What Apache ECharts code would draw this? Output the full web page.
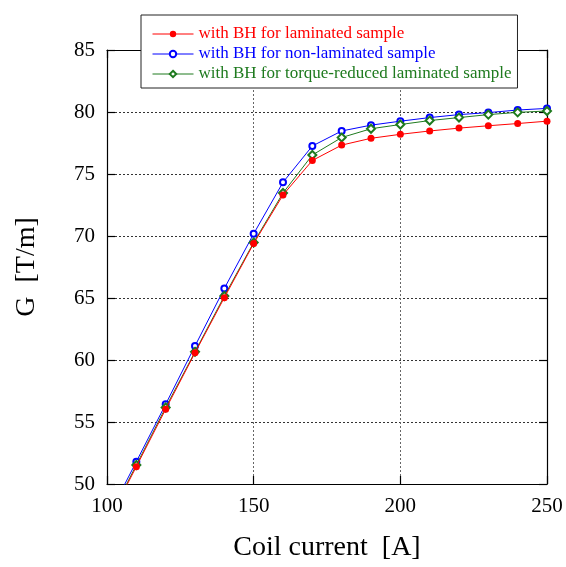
<!DOCTYPE html>
<html>
<head>
<meta charset="utf-8">
<script src="https://cdn.jsdelivr.net/npm/echarts@6/dist/echarts.min.js"></script>
<style>
html,body{margin:0;padding:0;background:#fff;}
#chart{width:566px;height:567px;}
</style>
</head>
<body>
<div id="chart"></div>
<script>
// Data
const current = [100, 110, 120, 130, 140, 150, 160, 170, 180, 190, 200, 210, 220, 230, 240, 250];
const laminated = [46.8, 51.4, 56.03, 60.58, 65.03, 69.39, 73.31, 76.09, 77.33, 77.88, 78.2, 78.47, 78.7, 78.89, 79.07, 79.26];
const nonLaminated = [47.2, 51.8, 56.43, 61.13, 65.77, 70.18, 74.33, 77.26, 78.47, 78.94, 79.26, 79.55, 79.79, 79.95, 80.16, 80.29];
const torqueReduced = [46.9, 51.53, 56.17, 60.66, 65.16, 69.47, 73.47, 76.53, 77.94, 78.65, 78.99, 79.31, 79.55, 79.79, 79.97, 80.08];
const seriesNames = [
  'with BH for laminated sample',
  'with BH for non-laminated sample',
  'with BH for torque-reduced laminated sample'
];
const xTicks = { min: 100, max: 250, interval: 50 };
const yTicks = { min: 50, max: 85, interval: 5 };

const RED = '#ff0000', BLUE = '#0000ff', GREEN = '#1e7a1e';
const FONT = '"Liberation Serif", "DejaVu Serif", serif';

function pairs(ys) { return current.map((x, i) => [x, ys[i]]); }

const chart = echarts.init(document.getElementById('chart'), null, { renderer: 'canvas' });

const axisCommon = {
  type: 'value',
  axisLine: { show: true, onZero: false, lineStyle: { color: '#000', width: 1.2 } },
  axisTick: { show: true, inside: true, length: 8, lineStyle: { color: '#000', width: 1.2 } },
  splitLine: { show: false },
  minorTick: { show: false }
};

const option = {
  backgroundColor: '#fff',
  animation: false,
  grid: { left: 107, right: 19, top: 50, bottom: 76, containLabel: false },
  legend: {
    orient: 'vertical',
    left: 141,
    top: 15,
    padding: [9, 6, 4, 11],
    backgroundColor: '#fff',
    borderColor: '#222',
    borderWidth: 1,
    itemWidth: 41,
    itemHeight: 8,
    itemGap: 0,
    z: 10,
    lineStyle: { width: 1 },
    textStyle: { fontFamily: FONT, fontSize: 17, lineHeight: 20, padding: [0, 0, 0, 0] },
    data: [
      { name: seriesNames[0], textStyle: { color: RED } },
      { name: seriesNames[1], textStyle: { color: BLUE } },
      { name: seriesNames[2], textStyle: { color: GREEN } }
    ]
  },
  xAxis: [
    Object.assign({}, axisCommon, {
      position: 'bottom',
      min: xTicks.min, max: xTicks.max, interval: xTicks.interval,
      name: 'Coil current  [A]',
      nameLocation: 'middle',
      nameGap: 50,
      nameTextStyle: { fontFamily: FONT, fontSize: 28, color: '#000' },
      axisLabel: { fontFamily: FONT, fontSize: 21, color: '#000', margin: 12 },
      splitLine: { show: true, lineStyle: { color: '#666', type: [2, 2], width: 1 } }
    }),
    Object.assign({}, axisCommon, {
      position: 'top',
      min: xTicks.min, max: xTicks.max, interval: xTicks.interval,
      axisLabel: { show: false }
    })
  ],
  yAxis: [
    Object.assign({}, axisCommon, {
      position: 'left',
      min: yTicks.min, max: yTicks.max, interval: yTicks.interval,
      name: 'G  [T/m]',
      nameLocation: 'middle',
      nameGap: 66,
      nameRotate: 90,
      nameTextStyle: { fontFamily: FONT, fontSize: 28, color: '#000' },
      axisLabel: { fontFamily: FONT, fontSize: 21, color: '#000', margin: 12 },
      splitLine: { show: true, lineStyle: { color: '#333', type: [2, 2], width: 1 } }
    }),
    Object.assign({}, axisCommon, {
      position: 'right',
      min: yTicks.min, max: yTicks.max, interval: yTicks.interval,
      axisLabel: { show: false }
    })
  ],
  series: [
    {
      name: seriesNames[1], type: 'line', data: pairs(nonLaminated),
      xAxisIndex: 0, yAxisIndex: 0, clip: true,
      symbol: 'emptyCircle', symbolSize: 6,
      lineStyle: { color: BLUE, width: 1 },
      itemStyle: { color: BLUE, borderColor: BLUE, borderWidth: 1 },
      z: 2
    },
    {
      name: seriesNames[2], type: 'line', data: pairs(torqueReduced),
      xAxisIndex: 0, yAxisIndex: 0, clip: true,
      symbol: 'emptyDiamond', symbolSize: 8,
      lineStyle: { color: GREEN, width: 1 },
      itemStyle: { color: GREEN, borderColor: GREEN, borderWidth: 1 },
      z: 3
    },
    {
      name: seriesNames[0], type: 'line', data: pairs(laminated),
      xAxisIndex: 0, yAxisIndex: 0, clip: true,
      symbol: 'circle', symbolSize: 7,
      lineStyle: { color: RED, width: 1 },
      itemStyle: { color: RED },
      z: 4
    }
  ]
};
chart.setOption(option);
</script>
</body>
</html>
